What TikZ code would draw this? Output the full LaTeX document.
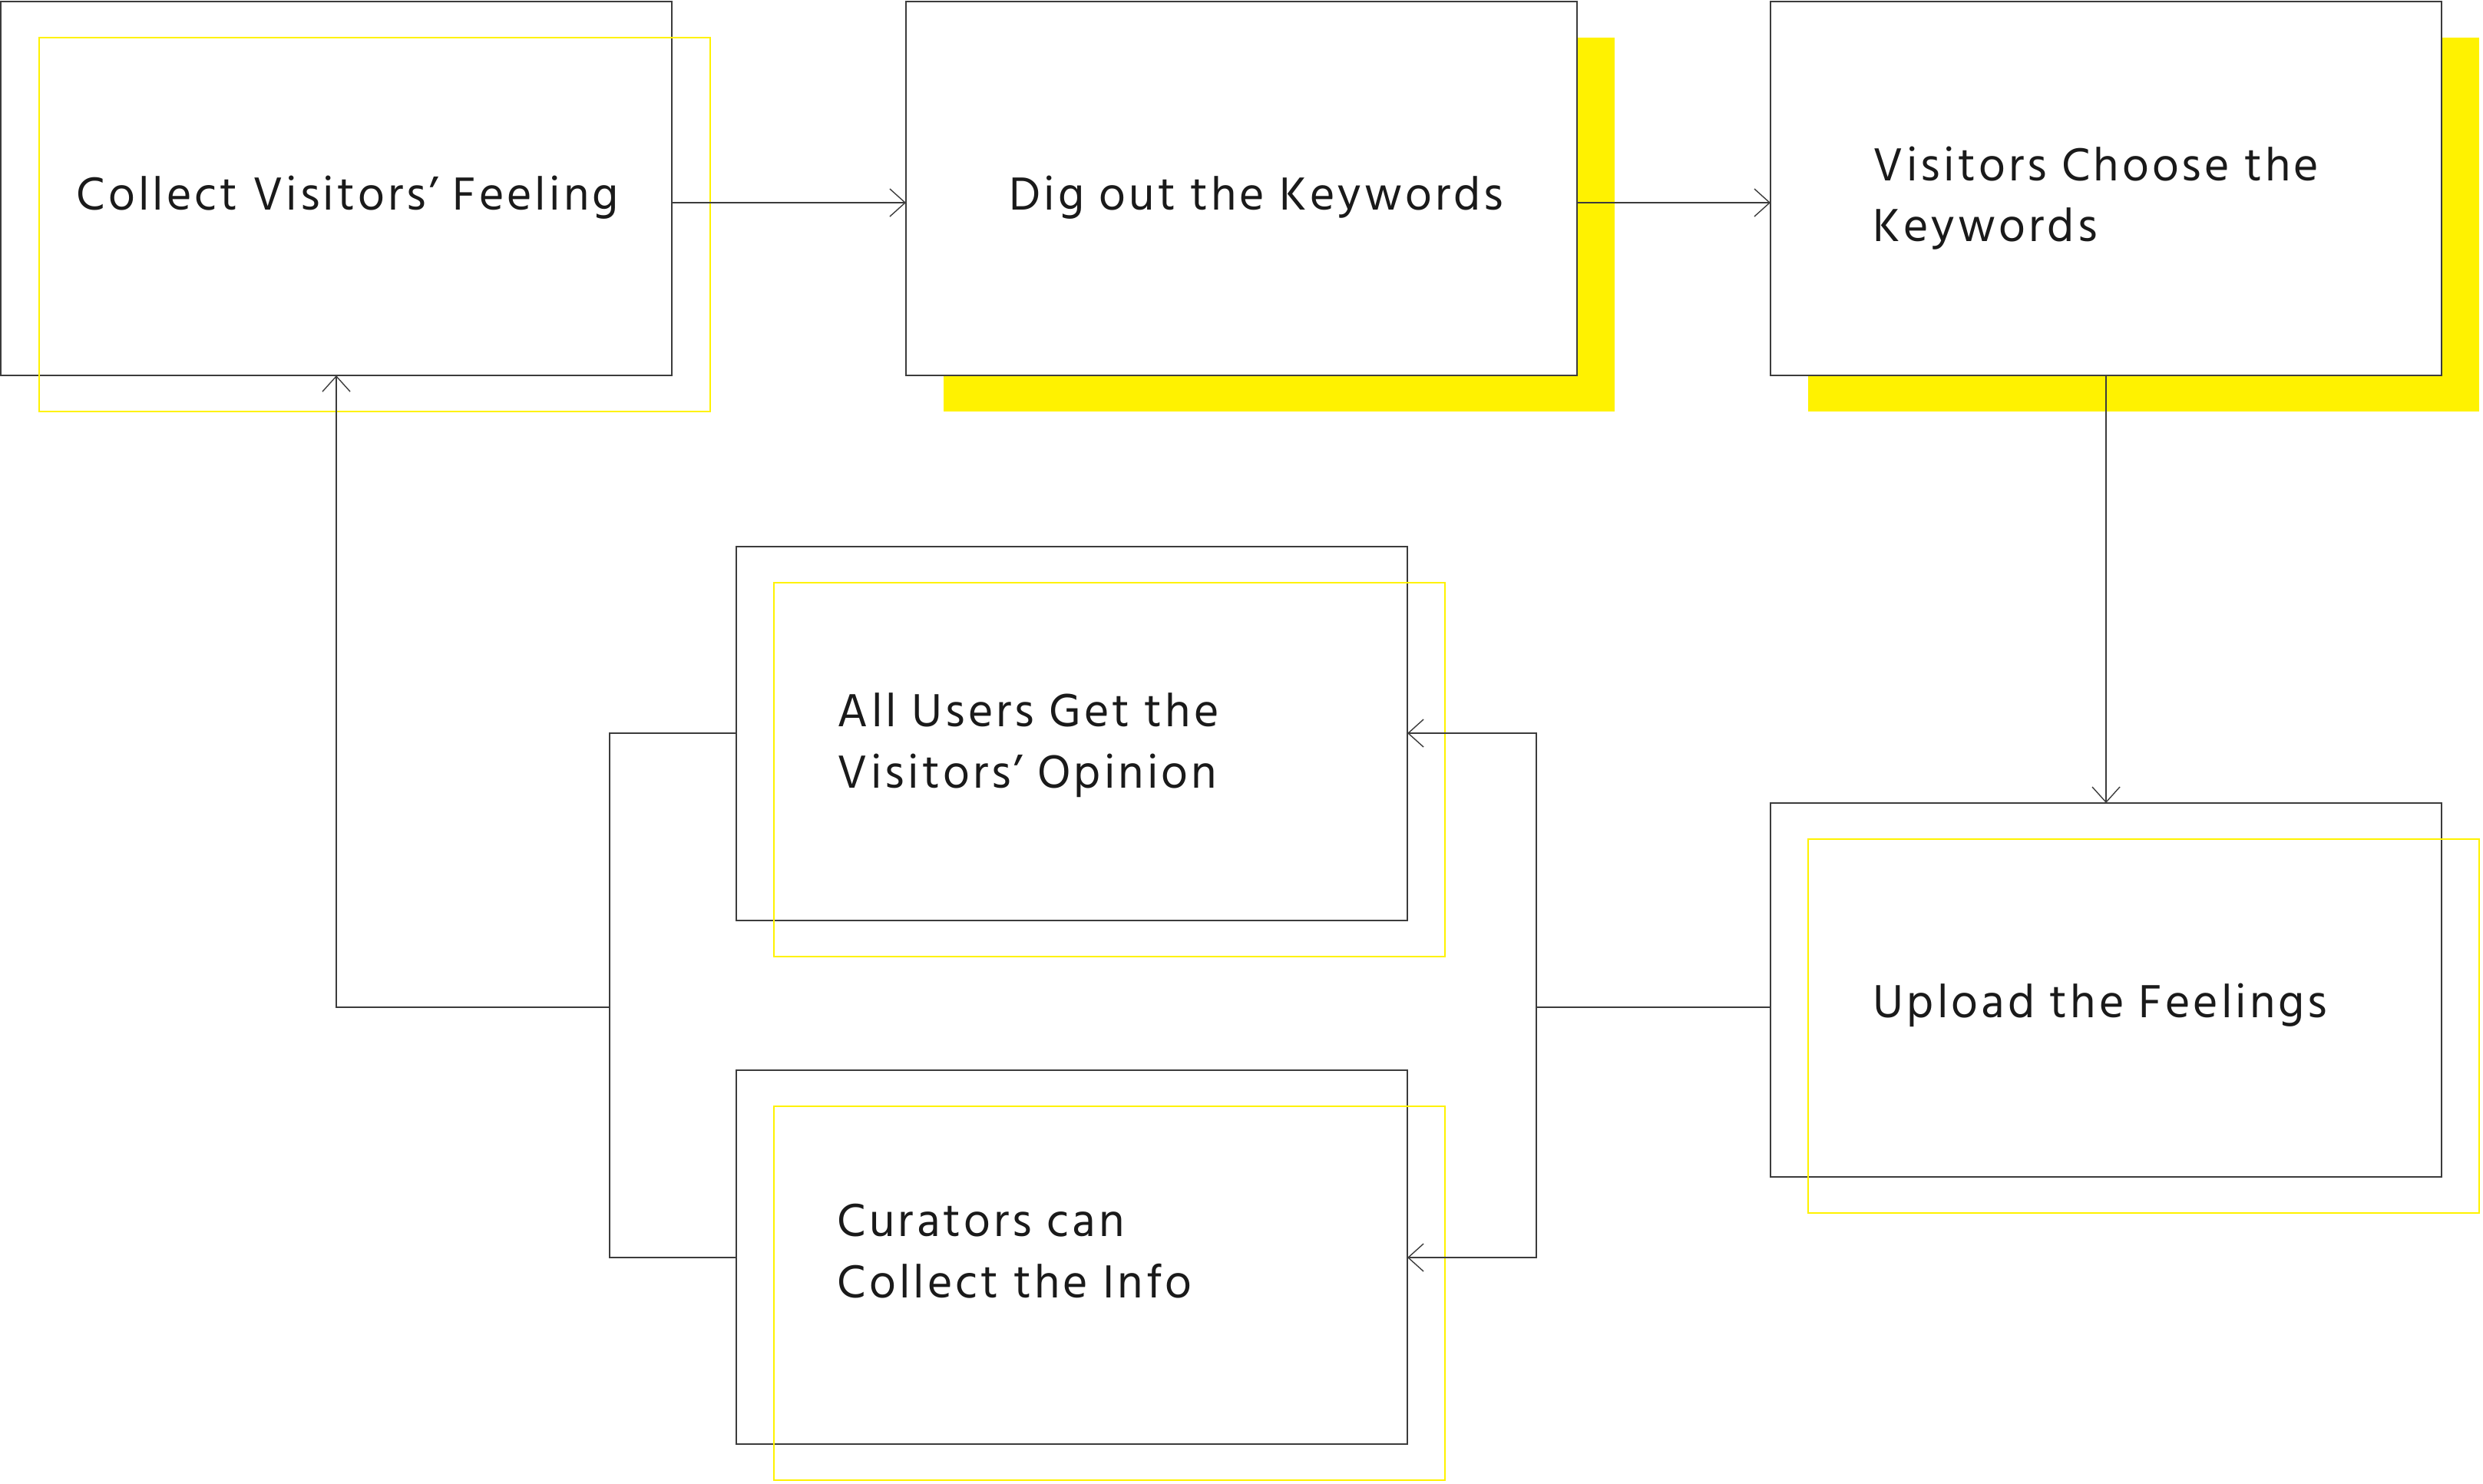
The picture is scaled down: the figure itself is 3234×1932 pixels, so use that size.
\documentclass[tikz,border=0pt]{standalone}
\usepackage{fontspec}
\setmainfont[LetterSpace=6.6]{Hind Madurai}
\usetikzlibrary{arrows.meta}
\definecolor{ylw}{RGB}{255,242,0}
\definecolor{ink}{RGB}{26,26,26}
\begin{document}
\begin{tikzpicture}[x=0.25pt,y=-0.25pt,
  boxbase/.style={inner sep=0pt, outer sep=0pt, minimum width=218.5pt, minimum height=121.75pt, anchor=north west},
  box/.style={boxbase, draw=ink!85, line width=0.4pt, fill=white},
  yfill/.style={boxbase, fill=ylw, draw=none},
  yline/.style={boxbase, draw=ylw, line width=0.4pt},
  con/.style={draw=ink!85, line width=0.4pt},
  arr/.style={con, -{Straight Barb[length=5pt,width=9pt,line width=0.35pt]}},
  lbl/.style={font=\fontsize{15.5}{20}\selectfont, text=ink, inner sep=0pt, anchor=base west}]
\useasboundingbox (0,0) rectangle (3234,1932);
% yellow filled shadows
\node[yfill] (s2) at (1229,49) {};
\node[yfill] (s3) at (2355,49) {};
% boxes
\node[box] (b1) at (1,2) {};
\node[box] (b2) at (1180,2) {};
\node[box] (b3) at (2306,2) {};
\node[box] (b4) at (2306,1046) {};
\node[box] (b5) at (959,712) {};
\node[box] (b6) at (959,1394) {};
% yellow outlines
\node[yline] (y1) at (51,49) {};
\node[yline] (y4) at (2355,1093) {};
\node[yline] (y5) at (1008,759) {};
\node[yline] (y6) at (1008,1441) {};
% helper coordinates
\coordinate (ytop) at (0,264);
\coordinate (y5c) at (0,955);
\coordinate (y6c) at (0,1638);
\coordinate (rj) at (2001,1312);
\coordinate (lj) at (794,1312);
% connectors
\draw[arr] (b1.east |- ytop) -- (b2.west |- ytop);
\draw[arr] (b2.east |- ytop) -- (b3.west |- ytop);
\draw[arr] (b3.south) -- (b4.north);
\draw[con] (b4.west |- rj) -- (rj);
\draw[arr] (rj) -- (rj |- y5c) -- (b5.east |- y5c);
\draw[arr] (rj) -- (rj |- y6c) -- (b6.east |- y6c);
\draw[con] (b5.west |- y5c) -- (lj |- y5c) -- (lj |- y6c) -- (b6.west |- y6c);
\draw[arr] (lj) -- (b1.south |- lj) -- (b1.south);
% texts
\node[lbl] (t1) at (99,273) {Collect Visitors’ Feeling};
\node[lbl] (t2) at (1314,273) {Dig out the Keywords};
\node[lbl] (t3a) at (2439,235) {Visitors Choose the};
\node[lbl] (t3b) at (2439,314) {Keywords};
\node[lbl] (t4) at (2439,1325) {Upload the Feelings};
\node[lbl] (t5a) at (1090,946) {All Users Get the};
\node[lbl] (t5b) at (1090,1026) {Visitors’ Opinion};
\node[lbl] (t6a) at (1090,1610) {Curators can};
\node[lbl] (t6b) at (1090,1690) {Collect the Info};
\end{tikzpicture}
\end{document}
